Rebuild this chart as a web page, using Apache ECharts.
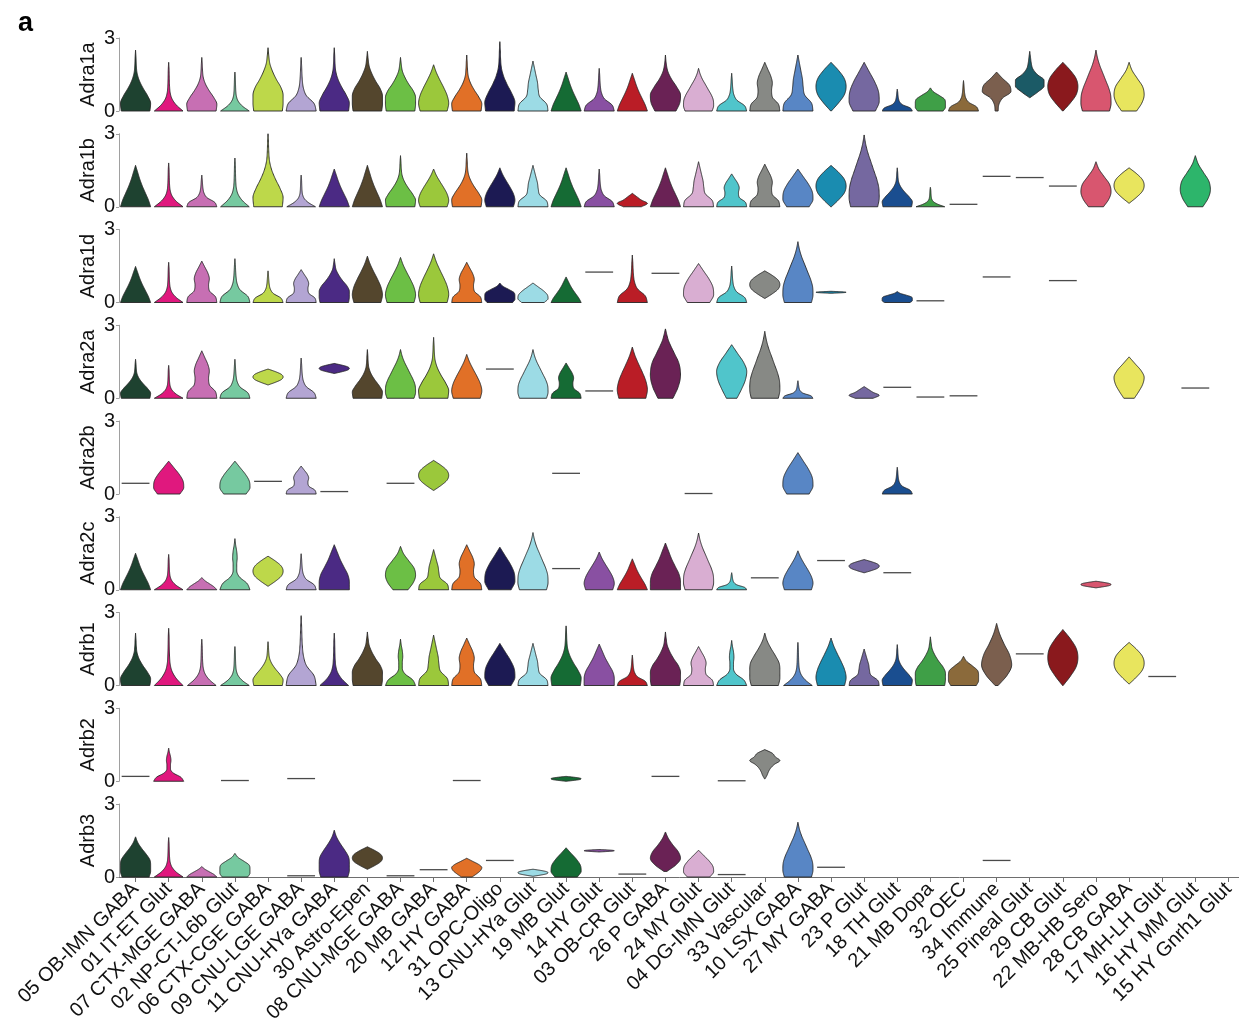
<!DOCTYPE html>
<html>
<head>
<meta charset="utf-8">
<script src="https://cdn.jsdelivr.net/npm/echarts@6/dist/echarts.min.js"></script>
<style>
  html, body { margin: 0; padding: 0; background: #fff; }
  #chart { width: 1239px; height: 1021px; }
</style>
</head>
<body>
<div id="chart"></div>
<script>
// Cell-type clusters along the shared x axis
const clusters = [
  '05 OB-IMN GABA', '01 IT-ET Glut', '07 CTX-MGE GABA', '02 NP-CT-L6b Glut', '06 CTX-CGE GABA',
  '09 CNU-LGE GABA', '11 CNU-HYa GABA', '30 Astro-Epen', '08 CNU-MGE GABA', '20 MB GABA',
  '12 HY GABA', '31 OPC-Oligo', '13 CNU-HYa Glut', '19 MB Glut', '14 HY Glut',
  '03 OB-CR Glut', '26 P GABA', '24 MY Glut', '04 DG-IMN Glut', '33 Vascular',
  '10 LSX GABA', '27 MY GABA', '23 P Glut', '18 TH Glut', '21 MB Dopa',
  '32 OEC', '34 Immune', '25 Pineal Glut', '29 CB Glut', '22 MB-HB Sero',
  '28 CB GABA', '17 MH-LH Glut', '16 HY MM Glut', '15 HY Gnrh1 Glut'
];

const genes = ['Adra1a', 'Adra1b', 'Adra1d', 'Adra2a', 'Adra2b', 'Adra2c', 'Adrb1', 'Adrb2', 'Adrb3'];

const clusterColors = [
  '#1e4230', '#e0187e', '#c76fb3', '#76c9a0', '#bdd84a', '#b3a5d3', '#4b2a84', '#54462d',
  '#6cbf45', '#9bc83b', '#e17027', '#1c1a53', '#9cdbe5', '#156b34', '#8950a2', '#ba1d26',
  '#6a2255', '#d9aed2', '#50c5cb', '#878985', '#5886c5', '#1a8cb0', '#7568a0', '#1a4e90',
  '#3f9f47', '#8b6a3b', '#7b5f4e', '#1b5a66', '#8a191d', '#d8566f', '#e8e55e', '#7a6530',
  '#2db56b', '#c4b3d8'
];

// Relative density profiles, sampled evenly from the lowest to the highest expression value
const shapes = {
  spike:   [0.95, 0.5, 0.22, 0.1, 0.06, 0.045, 0.035, 0.025, 0],
  flask:   [0.95, 1, 0.8, 0.5, 0.25, 0.1, 0.05, 0.03, 0],
  bulb:    [1, 0.85, 0.35, 0.15, 0.08, 0.05, 0.03, 0],
  cone:    [1, 0.85, 0.65, 0.45, 0.28, 0.14, 0],
  broad:   [0.95, 1, 1, 0.85, 0.55, 0.3, 0.12, 0.05, 0],
  drop:    [0.9, 1, 0.9, 0.68, 0.42, 0.18, 0],
  onion:   [0.75, 1, 0.95, 0.7, 0.35, 0],
  tall:    [0.9, 1, 0.98, 0.85, 0.65, 0.45, 0.25, 0.1, 0],
  bell:    [1, 1, 0.9, 0.65, 0.4, 0.2, 0],
  block:   [0.9, 1, 1, 0.95, 0.7, 0.4, 0.15, 0],
  neck:    [1, 0.9, 0.45, 0.35, 0.3, 0.2, 0.1, 0],
  gourd:   [1, 0.9, 0.5, 0.45, 0.5, 0.4, 0.2, 0],
  twin:    [1, 0.8, 0.3, 0.12, 0.12, 0.15, 0.12, 0.05, 0],
  plum:    [0.7, 0.95, 1, 0.75, 0.4, 0.15, 0.05, 0],
  lemon:   [0.5, 0.85, 1, 0.9, 0.55, 0.2, 0],
  spindle: [0.35, 0.65, 0.9, 1, 0.8, 0.4, 0],
  lens:    [0.1, 0.7, 1, 0.85, 0.5, 0.2, 0],
  diamond: [0.02, 0.5, 0.88, 1, 0.88, 0.5, 0],
  kite:    [0.02, 0.55, 0.95, 0.95, 0.5, 0.2, 0.1, 0.05, 0],
  tail:    [0.1, 0.15, 0.4, 0.95, 0.85, 0.4, 0],
  pent:    [0.85, 1, 1, 0.95, 0.6, 0.2, 0],
  cap:     [1, 0.8, 0.5, 0.2, 0],
  hat:     [0.6, 1, 0.6, 0.3, 0],
  arrow:   [0.02, 0.15, 0.25, 0.4, 0.65, 1, 0.7, 0.5, 0]
};

// One entry per cluster: [profile, min, max], a single number for a constant value, null if absent
const adra1a = [
  ['flask', 0, 2.5], ['spike', 0, 2.0], ['flask', 0, 2.2], ['spike', 0, 1.6], ['broad', 0, 2.6],
  ['bulb', 0, 2.2], ['flask', 0, 2.6], ['broad', 0, 2.45], ['broad', 0, 2.2], ['drop', 0, 1.9],
  ['flask', 0, 2.3], ['flask', 0, 2.85], ['neck', 0, 2.05], ['cone', 0, 1.6], ['bulb', 0, 1.75],
  ['cone', 0, 1.55], ['plum', 0, 2.3], ['tall', 0, 1.75], ['bulb', 0, 1.55], ['gourd', 0, 2.0],
  ['neck', 0, 2.3], ['diamond', 0, 2.0], ['onion', 0, 2.0], ['bulb', 0, 0.9], ['pent', 0, 0.95],
  ['bulb', 0, 1.25], ['tail', 0, 1.6], ['kite', 0.55, 2.45], ['diamond', 0, 2.0], ['tall', 0, 2.5],
  ['lemon', 0, 2.0], null, null, null
];
const adra1b = [
  ['cone', 0, 1.7], ['spike', 0, 1.8], ['bulb', 0, 1.3], ['spike', 0, 2.0], ['flask', 0, 3.0],
  ['spike', 0, 1.3], ['cone', 0, 1.55], ['cone', 0, 1.7], ['flask', 0, 2.1], ['drop', 0, 1.55],
  ['flask', 0, 2.2], ['drop', 0, 1.6], ['neck', 0, 1.7], ['cone', 0, 1.6], ['bulb', 0, 1.55],
  ['hat', 0, 0.55], ['cone', 0, 1.6], ['neck', 0, 1.85], ['gourd', 0, 1.35], ['gourd', 0, 1.75],
  ['onion', 0, 1.55], ['diamond', 0, 1.7], ['tall', 0, 2.95], ['flask', 0, 1.6], ['spike', 0, 0.8],
  0.1, 1.25, 1.2, 0.85, ['lemon', 0, 1.85],
  ['diamond', 0.15, 1.6], null, ['lemon', 0, 2.1], null
];
const adra1d = [
  ['cone', 0, 1.48], ['spike', 0, 1.65], ['gourd', 0, 1.7], ['bulb', 0, 1.8], ['bulb', 0, 1.3],
  ['gourd', 0, 1.35], ['broad', 0, 1.8], ['drop', 0, 1.9], ['drop', 0, 1.85], ['drop', 0, 2.0],
  ['gourd', 0, 1.65], ['pent', 0, 0.8], ['onion', 0, 0.8], ['cone', 0, 1.05], 1.25,
  ['bulb', 0, 1.95], 1.2, ['onion', 0, 1.6], ['bulb', 0, 1.5], ['diamond', 0.17, 1.3],
  ['tall', 0, 2.5], ['diamond', 0.38, 0.46], null, ['pent', 0, 0.45], 0.07,
  null, 1.05, null, 0.9, null,
  null, null, null, null
];
const adra2a = [
  ['flask', 0, 1.6], ['spike', 0, 1.35], ['gourd', 0, 1.95], ['bulb', 0, 1.6], ['diamond', 0.55, 1.2],
  ['bulb', 0, 1.65], ['diamond', 1.02, 1.43], ['flask', 0, 2.0], ['tall', 0, 2.0], ['flask', 0, 2.5],
  ['drop', 0, 1.8], 1.2, ['tall', 0, 2.0], ['gourd', 0, 1.45], 0.3,
  ['drop', 0, 2.1], ['lemon', 0, 2.85], null, ['spindle', 0, 2.2], ['tall', 0, 2.75],
  ['bulb', 0, 0.72], null, ['hat', 0, 0.48], 0.45, 0.05,
  0.1, null, null, null, null,
  ['spindle', 0, 1.7], null, 0.42, null
];
const adra2b = [
  0.44, ['onion', 0, 1.35], null, ['onion', 0, 1.35], 0.52,
  ['gourd', 0, 1.15], 0.1, null, 0.44, ['diamond', 0.15, 1.38],
  null, null, null, 0.85, null,
  null, null, 0.02, null, null,
  ['onion', 0, 1.7], null, null, ['bulb', 0, 1.1], null,
  null, null, null, null, null,
  null, null, null, null
];
const adra2c = [
  ['cone', 0, 1.5], ['spike', 0, 1.45], ['cap', 0, 0.5], ['twin', 0, 2.1], ['diamond', 0.15, 1.38],
  ['bulb', 0, 1.48], ['bell', 0, 1.85], null, ['lemon', 0, 1.78], ['neck', 0, 1.65],
  ['gourd', 0, 1.85], ['onion', 0, 1.75], ['tall', 0, 2.35], 0.87, ['drop', 0, 1.55],
  ['cone', 0, 1.27], ['bell', 0, 1.92], ['tall', 0, 2.33], ['bulb', 0, 0.7], 0.49,
  ['drop', 0, 1.6], 1.2, ['diamond', 0.7, 1.24], 0.7, null,
  null, null, null, null, ['diamond', 0.08, 0.35],
  null, null, null, null
];
const adrb1 = [
  ['flask', 0, 2.15], ['spike', 0, 2.35], ['spike', 0, 1.9], ['spike', 0, 1.6], ['flask', 0, 1.8],
  ['bulb', 0, 2.87], ['spike', 0, 2.15], ['broad', 0, 2.2], ['twin', 0, 1.9], ['neck', 0, 2.07],
  ['gourd', 0, 1.95], ['onion', 0, 1.73], ['neck', 0, 1.73], ['flask', 0, 2.45], ['bell', 0, 1.7],
  ['bulb', 0, 1.25], ['broad', 0, 2.2], ['gourd', 0, 1.6], ['twin', 0, 1.85], ['block', 0, 2.15],
  ['spike', 0, 1.77], ['drop', 0, 1.95], ['neck', 0, 1.5], ['flask', 0, 1.68], ['broad', 0, 2.0],
  ['pent', 0, 1.2], ['lens', 0, 2.55], 1.3, ['diamond', 0, 2.3], null,
  ['diamond', 0.07, 1.77], 0.37, null, null
];
const adrb2 = [
  0.2, ['twin', 0, 1.36], null, 0.03, null,
  0.11, null, null, null, null,
  0.03, null, null, ['diamond', 0, 0.2], null,
  null, 0.2, null, 0.02, ['arrow', 0.1, 1.3],
  null, null, null, null, null,
  null, null, null, null, null,
  null, null, null, null
];
const adrb3 = [
  ['block', 0, 1.65], ['spike', 0, 1.62], ['cap', 0, 0.43], ['pent', 0, 0.97], null,
  0.05, ['block', 0, 1.92], ['diamond', 0.32, 1.24], 0.05, 0.3,
  ['spindle', 0, 0.77], 0.68, ['diamond', 0.03, 0.32], ['onion', 0, 1.2], ['diamond', 1.03, 1.13],
  0.12, ['lens', 0.23, 1.85], ['onion', 0, 1.1], 0.1, null,
  ['tall', 0, 2.25], 0.4, null, null, null,
  null, 0.68, null, null, null,
  null, null, null, null
];

const geneValues = [adra1a, adra1b, adra1d, adra2a, adra2b, adra2c, adrb1, adrb2, adrb3];

// ---- layout ----
const PLOT_LEFT = 119;
const PLOT_WIDTH = 1126;
const ROW_TOP = 38;
const ROW_HEIGHT = 73;
const ROW_STEP = 95.75;
const VIOLIN_HALF = 0.455;        // half violin width as a fraction of the category band
const LINE_HALF = 0.42;           // half length of constant-value lines
const FONT = '"Liberation Sans", Arial, Helvetica, sans-serif';

// Monotone cubic interpolation of a profile at t in [0, 1]
function makeProfile(ws) {
  const n = ws.length - 1;
  const delta = [];
  for (let k = 0; k < n; k++) delta.push(ws[k + 1] - ws[k]);
  const m = new Array(n + 1);
  m[0] = delta[0];
  m[n] = delta[n - 1];
  for (let k = 1; k < n; k++) {
    if (delta[k - 1] * delta[k] <= 0) m[k] = 0;
    else m[k] = (delta[k - 1] + delta[k]) / 2;
  }
  for (let k = 0; k < n; k++) {
    if (delta[k] === 0) { m[k] = 0; m[k + 1] = 0; continue; }
    const a = m[k] / delta[k], b = m[k + 1] / delta[k];
    const s = a * a + b * b;
    if (s > 9) {
      const tau = 3 / Math.sqrt(s);
      m[k] = tau * a * delta[k];
      m[k + 1] = tau * b * delta[k];
    }
  }
  return function (t) {
    const x = t * n;
    const i = Math.min(Math.floor(x), n - 1);
    const u = x - i;
    const h00 = 2 * u * u * u - 3 * u * u + 1;
    const h10 = u * u * u - 2 * u * u + u;
    const h01 = -2 * u * u * u + 3 * u * u;
    const h11 = u * u * u - u * u;
    return Math.max(0, h00 * ws[i] + h10 * m[i] + h01 * ws[i + 1] + h11 * m[i + 1]);
  };
}
const profiles = {};
Object.keys(shapes).forEach(function (k) { profiles[k] = makeProfile(shapes[k]); });

function violinRenderer(items) {
  return function (params, api) {
    const item = items[params.dataIndex];
    const col = api.value(0), lo = api.value(1), hi = api.value(2);
    const band = api.size([1, 0])[0];
    const base = api.coord([col, lo]);
    const cx = base[0];
    const fill = clusterColors[col];
    if (!item.shape) {
      const lw = band * LINE_HALF;
      return {
        type: 'line',
        shape: { x1: cx - lw, y1: base[1], x2: cx + lw, y2: base[1] },
        style: { stroke: '#4a4a4a', lineWidth: 1.3 }
      };
    }
    const hw = band * VIOLIN_HALF;
    const yTop = api.coord([col, hi])[1];
    const f = profiles[item.shape];
    const N = 60;
    const right = [], left = [];
    for (let j = 0; j <= N; j++) {
      const t = j / N;
      const y = base[1] + (yTop - base[1]) * t;
      const w = f(t) * hw;
      right.push([cx + w, y]);
      left.push([cx - w, y]);
    }
    const pts = right.concat(left.reverse());
    return {
      type: 'polygon',
      shape: { points: pts },
      style: { fill: fill, stroke: '#262626', lineWidth: 0.9, lineJoin: 'round' }
    };
  };
}

const grids = [], xAxes = [], yAxes = [], series = [];
genes.forEach(function (gene, r) {
  const last = r === genes.length - 1;
  grids.push({
    left: PLOT_LEFT, width: PLOT_WIDTH, top: ROW_TOP + r * ROW_STEP, height: ROW_HEIGHT,
    outerBoundsMode: 'none', containLabel: false
  });
  xAxes.push({
    type: 'category', gridIndex: r, data: clusters, boundaryGap: true,
    axisLine: { show: last, lineStyle: { color: '#6e6e6e', width: 1 } },
    axisTick: { show: last, alignWithLabel: true, length: 5, lineStyle: { color: '#6e6e6e' } },
    axisLabel: {
      show: last, interval: 0, rotate: 45, margin: 9,
      fontSize: 20, color: '#111', fontFamily: FONT
    },
    splitLine: { show: false }
  });
  yAxes.push({
    type: 'value', gridIndex: r, min: 0, max: 3, interval: 3,
    name: gene, nameLocation: 'middle', nameRotate: 90, nameGap: 21, nameMoveOverlap: false,
    nameTextStyle: { fontSize: 20, color: '#111', fontFamily: FONT },
    axisLine: { show: true, lineStyle: { color: '#a0a0a0', width: 1 } },
    axisTick: { show: true, length: 3, lineStyle: { color: '#a0a0a0' } },
    axisLabel: { fontSize: 20, color: '#111', margin: 4, fontFamily: FONT },
    splitLine: { show: false }
  });
  const items = [];
  geneValues[r].forEach(function (v, col) {
    if (v === null) return;
    if (typeof v === 'number') items.push({ value: [col, v, v], shape: null });
    else items.push({ value: [col, v[1], v[2]], shape: v[0] });
  });
  series.push({
    type: 'custom', xAxisIndex: r, yAxisIndex: r, clip: false,
    renderItem: violinRenderer(items),
    encode: { x: 0, y: [1, 2] },
    data: items.map(function (d) { return d.value; })
  });
});

const chart = echarts.init(document.getElementById('chart'), null, { renderer: 'canvas' });
chart.setOption({
  animation: false,
  backgroundColor: '#ffffff',
  grid: grids,
  xAxis: xAxes,
  yAxis: yAxes,
  series: series,
  graphic: [{
    type: 'text', left: 18, top: 10,
    style: { text: 'a', fontSize: 27, fontWeight: 'bold', fill: '#000', fontFamily: FONT }
  }]
});
</script>
</body>
</html>
